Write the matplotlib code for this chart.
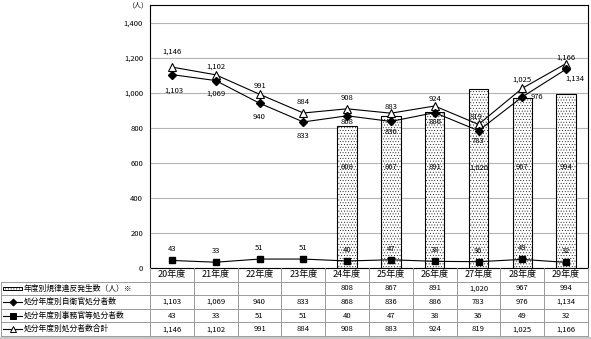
import matplotlib
matplotlib.use('Agg')
import matplotlib.pyplot as plt
import numpy as np
from matplotlib.patches import Rectangle
from matplotlib.lines import Line2D

plt.rcParams['font.family'] = ['Noto Sans CJK JP', 'DejaVu Sans']
plt.rcParams['hatch.color'] = '#bdbdbd'
plt.rcParams['hatch.linewidth'] = 0.3

# data
years = ['20年度', '21年度', '22年度', '23年度', '24年度',
         '25年度', '26年度', '27年度', '28年度', '29年度']
violations = [None, None, None, None, 808, 867, 891, 1020, 967, 994]
sdf_punished = [1103, 1069, 940, 833, 868, 836, 886, 783, 976, 1134]
civil_punished = [43, 33, 51, 51, 40, 47, 38, 36, 49, 32]
total_punished = [1146, 1102, 991, 884, 908, 883, 924, 819, 1025, 1166]
row_labels = ['年度別規律違反発生数（人）※', '処分年度別自衛官処分者数',
              '処分年度別事務官等処分者数', '処分年度別処分者数合計']

# label offsets in pixels (dx, dy), dy positive = up
tri_off = [(0, 15), (0, 8), (0, 8), (0, 11), (0, 11), (0, 6), (0, 7), (-2, 7), (0, 9), (0, 6)]
dia_off = [(2, -16), (0, -13), (0, -14), (0, -14), (0, -6), (0, -11), (0, -9), (0, -10), (15, 0), (9, -9)]


def fmt(v):
    return '' if v is None else f'{v:,}'


W, H = 591, 339
fig = plt.figure(figsize=(W / 100, H / 100), dpi=100)
ax_l, ax_r, ax_t, ax_b = 150, 588, 5, 268
ax = fig.add_axes([ax_l / W, 1 - ax_b / H, (ax_r - ax_l) / W, (ax_b - ax_t) / H])

x = np.arange(len(years))
bx = [i for i, v in enumerate(violations) if v is not None]
bv = [violations[i] for i in bx]
ax.bar(bx, bv, width=0.44, color='white', edgecolor='black',
       linewidth=0.8, hatch='......', zorder=2)
for i, v in zip(bx, bv):
    ax.text(i, 575, fmt(v), ha='center', va='center', fontsize=5.5, zorder=5)

ax.plot(x, total_punished, color='black', lw=0.8, marker='^', ms=5.5,
        mfc='white', mec='black', mew=0.8, zorder=4)
ax.plot(x, sdf_punished, color='black', lw=0.8, marker='D', ms=4,
        mfc='black', mec='black', zorder=4)
ax.plot(x, civil_punished, color='black', lw=0.8, marker='s', ms=5,
        mfc='black', mec='black', zorder=4)

for i in x:
    dx, dy = tri_off[i]
    ax.annotate(fmt(total_punished[i]), (i, total_punished[i]), xytext=(dx, dy),
                textcoords='offset pixels', ha='center', va='center', fontsize=5.5, zorder=6)
    dx, dy = dia_off[i]
    ax.annotate(fmt(sdf_punished[i]), (i, sdf_punished[i]), xytext=(dx, dy),
                textcoords='offset pixels', ha='center', va='center', fontsize=5.5, zorder=6)
    ax.annotate(fmt(civil_punished[i]), (i, civil_punished[i]), xytext=(0, 11),
                textcoords='offset pixels', ha='center', va='center', fontsize=5.5, zorder=6)

ax.set_xlim(-0.5, len(years) - 0.5)
ax.set_ylim(0, 1500)
ax.set_yticks(range(0, 1401, 200))
ax.set_yticklabels([f'{v:,}' for v in range(0, 1401, 200)], fontsize=5.5)
ax.tick_params(axis='y', length=0, pad=5)
ax.set_xticks([])
ax.yaxis.grid(True, color='#b4b4b4', lw=0.8, zorder=0)
ax.set_axisbelow(True)
for s in ax.spines.values():
    s.set_color('black')
    s.set_linewidth(0.8)
ax.text(-0.004, 1.0, '（人）', transform=ax.transAxes, ha='right', va='center', fontsize=5)

# data table below the plot
tb_t, tb_b = 268, 336
col_w = (ax_r - ax_l) / len(years)
tax = fig.add_axes([0, 1 - tb_b / H, ax_r / W, (tb_b - tb_t) / H])
x0 = -0.5 - ax_l / col_w
tax.set_xlim(x0, len(years) - 0.5)
tax.set_ylim(5, 0)
tax.axis('off')
gc = '#9a9a9a'
for r in range(1, 6):
    tax.plot([x0 + 0.02, len(years) - 0.5], [r, r], color=gc, lw=0.7, clip_on=False)
for c in range(len(years) + 1):
    tax.plot([c - 0.5, c - 0.5], [0, 5], color=gc, lw=0.7, clip_on=False)
tax.plot([x0 + 0.02, x0 + 0.02], [1, 5], color=gc, lw=0.7, clip_on=False)

for i, y in enumerate(years):
    tax.text(i, 0.5, y, ha='center', va='center', fontsize=6.5)
rows = [violations, sdf_punished, civil_punished, total_punished]
for r, vals in enumerate(rows):
    for i, v in enumerate(vals):
        tax.text(i, r + 1.5, fmt(v), ha='center', va='center', fontsize=5.5)
    tax.text(x0 + 24 / col_w, r + 1.5, row_labels[r], ha='left', va='center', fontsize=5.6)

# legend keys in the row label column
kx0, kx1 = x0 + 3 / col_w, x0 + 22 / col_w
tax.add_patch(Rectangle((kx0, 1.38), kx1 - kx0, 0.24, facecolor='white',
                        edgecolor='black', lw=0.7, hatch='......', clip_on=False))
key_styles = [('D', 'black', 3.5), ('s', 'black', 4.5), ('^', 'white', 4.5)]
for k, (m, fc, ms) in enumerate(key_styles):
    tax.add_line(Line2D([kx0, kx1], [k + 2.5, k + 2.5], color='black', lw=0.8, clip_on=False))
    tax.add_line(Line2D([(kx0 + kx1) / 2], [k + 2.5], marker=m, ms=ms, mfc=fc,
                        mec='black', mew=0.7, clip_on=False))

fig.add_artist(Rectangle((0, 0), 1, 2.5 / H, transform=fig.transFigure,
                         facecolor='#c8c8c8', edgecolor='none'))

fig.savefig('out.png', dpi=100)
